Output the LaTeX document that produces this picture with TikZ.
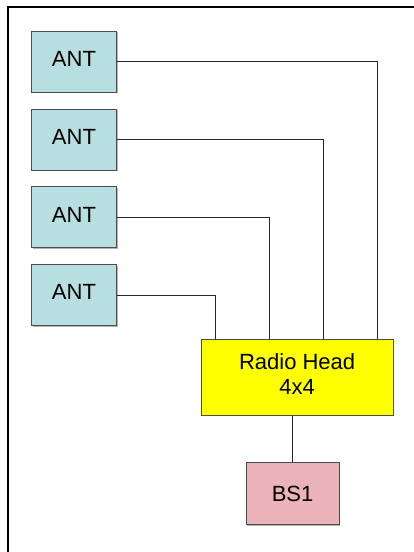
\documentclass[tikz,border=0pt]{standalone}
\usepackage{fontspec}
\setmainfont{Liberation Sans}
\usetikzlibrary{positioning,shadows}
\definecolor{antblue}{RGB}{183,222,224}
\definecolor{bspink}{RGB}{234,178,185}
\definecolor{rhyellow}{RGB}{255,255,0}

\begin{document}
\begin{tikzpicture}[x=1pt, y=1pt,
  blk/.style={draw=black!70, line width=0.9pt, inner sep=0pt,
              font=\fontsize{22}{25}\selectfont, align=center,
              drop shadow={shadow xshift=1.2pt, shadow yshift=-1.2pt, fill=black!30, opacity=1}},
  ant/.style={blk, fill=antblue, minimum width=85pt, minimum height=61pt, text depth=6pt},
  rh/.style={blk, fill=rhyellow, minimum width=192pt, minimum height=76pt, text depth=6pt},
  bs/.style={blk, fill=bspink, minimum width=93pt, minimum height=62pt},
  wire/.style={draw=black!85, line width=0.8pt}
]
\useasboundingbox (0,0) rectangle (414,552);
\draw[line width=1.6pt] (8,0) -- (8,545) -- (414,545);

\node[ant, anchor=north west] (a1) at (31,521.3) {ANT};
\node[ant, below=16pt of a1] (a2) {ANT};
\node[ant, below=16pt of a2] (a3) {ANT};
\node[ant, below=16pt of a3] (a4) {ANT};

\node[rh, anchor=north west] (rh) at (200.7,213.3) {Radio Head\\4x4};
\node[bs, anchor=north] (bs) at (292.6,90) {BS1};

\draw[wire] (a1.east) -| ([xshift=177pt]rh.north west);
\draw[wire] (a2.east) -| ([xshift=123pt]rh.north west);
\draw[wire] (a3.east) -| ([xshift=69pt]rh.north west);
\draw[wire] (a4.east) -| ([xshift=15pt]rh.north west);
\draw[wire] (bs.north) -- (bs.north |- rh.south);
\end{tikzpicture}
\end{document}
